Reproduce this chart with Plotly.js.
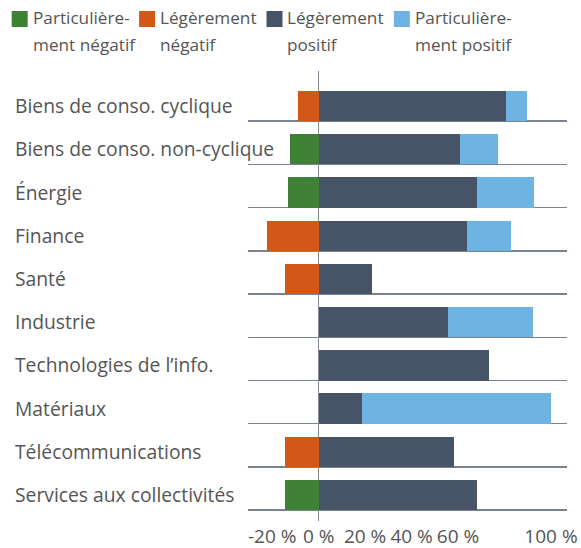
<!DOCTYPE html>
<html>
<head>
<meta charset="utf-8">
<script src="https://cdn.plot.ly/plotly-3.0.1.min.js"></script>
<style>html,body{margin:0;padding:0;background:#fff;}#chart{width:581px;height:548px;}</style>
</head>
<body>
<div id="chart"></div>
<script>
// ---- Data ----
const categories = [
  "Biens de conso. cyclique",
  "Biens de conso. non-cyclique",
  "Énergie",
  "Finance",
  "Santé",
  "Industrie",
  "Technologies de l’info.",
  "Matériaux",
  "Télécommunications",
  "Services aux collectivités"
];
const seriesNames = [
  ["Particulière-", "ment négatif"],
  ["Légèrement", "négatif"],
  ["Légèrement", "positif"],
  ["Particulière-", "ment positif"]
];
const tresNegatif  = [0, -12.4, -13.2, 0, 0, 0, 0, 0, 0, -14.5];
const legerNegatif = [-8.9, 0, 0, -22.3, -14.5, 0, 0, 0, -14.5, 0];
const legerPositif = [80.6, 60.8, 68.1, 63.8, 22.9, 55.7, 73.3, 18.6, 58.2, 68.1];
const tresPositif  = [9.0, 16.4, 24.5, 18.9, 0, 36.6, 0, 81.4, 0, 0];
const tickValues = [-20, 0, 20, 40, 60, 100];
const tickLabels = ["-20 %", "0 %", "20 %", "40 %", "60 %", "100 %"];

// ---- Styles ----
const colors = ["#3F8236", "#D35716", "#475366", "#6EB4E3"];
const textColor = "#555555";
const fontFamily = "'Open Sans', 'DejaVu Sans', sans-serif";
const labelSize = 19.3;
const legendSize = 17.2;
const tickSize = 19;

const W = 581, H = 548;
const mL = 248, mR = 14, mT = 71, mB = 27;
const pw = W - mL - mR, ph = H - mT - mB;
const px2x = p => (p - mL) / pw;
const py2y = p => (H - mB - p) / ph;

const seriesValues = [tresNegatif, legerNegatif, legerPositif, tresPositif];
const traces = seriesValues.map((vals, k) => ({
  type: "bar",
  orientation: "h",
  name: seriesNames[k].join(" "),
  y: categories,
  x: vals,
  width: 0.70,
  offset: -0.70,
  marker: {color: colors[k], line: {width: 0}},
  showlegend: false,
  hoverinfo: "x+y"
}));

const annotations = [];
const shapes = [];
categories.forEach((c, i) => {
  annotations.push({
    xref: "paper", yref: "y",
    x: px2x(12.5), y: i - 0.36,
    xanchor: "left", yanchor: "middle",
    text: c, showarrow: false,
    font: {family: fontFamily, size: labelSize, color: textColor}
  });
});
seriesNames.forEach((nm, k) => {
  const sx = 11.7 + 127.4 * k;
  shapes.push({
    type: "rect", xref: "paper", yref: "paper",
    x0: px2x(sx), x1: px2x(sx + 16),
    y0: py2y(27), y1: py2y(11),
    fillcolor: colors[k], line: {width: 0}
  });
  nm.forEach((line, j) => {
    annotations.push({
      xref: "paper", yref: "paper",
      x: px2x(sx + 18.8), y: py2y(17.6 + 26.5 * j),
      xanchor: "left", yanchor: "middle",
      text: line, showarrow: false,
      font: {family: fontFamily, size: legendSize, color: textColor}
    });
  });
});

const layout = {
  width: W, height: H,
  margin: {l: mL, r: mR, t: mT, b: mB, pad: 0},
  paper_bgcolor: "#ffffff",
  plot_bgcolor: "#ffffff",
  barmode: "relative",
  bargap: 0,
  showlegend: false,
  font: {family: fontFamily, size: labelSize, color: textColor},
  xaxis: {
    range: [-30.4, 106.9],
    tickvals: tickValues,
    ticktext: tickLabels,
    showgrid: false,
    zeroline: true,
    zerolinecolor: "#858c97",
    zerolinewidth: 1.5,
    showline: false,
    ticks: "",
    ticklabelstandoff: 2,
    tickfont: {family: fontFamily, size: tickSize, color: textColor},
    fixedrange: true
  },
  yaxis: {
    type: "category",
    categoryorder: "array",
    categoryarray: categories,
    range: [9.25, -1.16],
    showticklabels: false,
    ticks: "",
    showgrid: true,
    gridcolor: "#7a828f",
    gridwidth: 1.4,
    zeroline: false,
    showline: false,
    fixedrange: true
  },
  annotations: annotations,
  shapes: shapes
};

Plotly.newPlot("chart", traces, layout, {displayModeBar: false, staticPlot: true});
</script>
</body>
</html>
